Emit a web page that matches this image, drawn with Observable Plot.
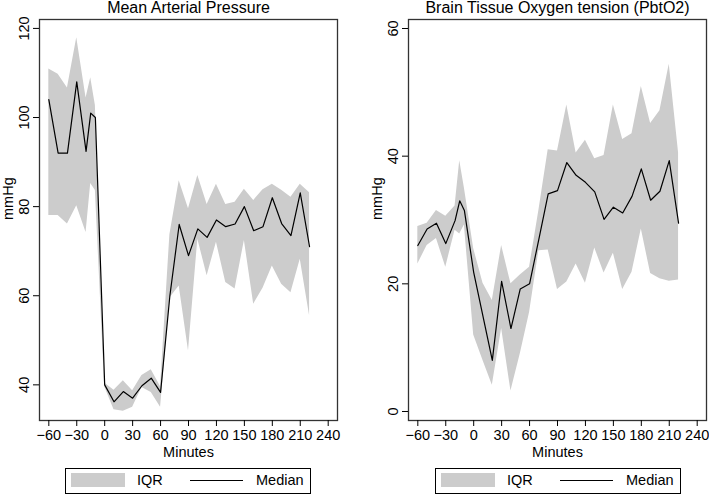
<!DOCTYPE html>
<html>
<head>
<meta charset="utf-8">
<script src="https://cdn.jsdelivr.net/npm/d3@7"></script>
<script src="https://cdn.jsdelivr.net/npm/@observablehq/plot@0.6"></script>
<style>
  body { margin: 0; background: #fff; font-family: "Liberation Sans", Arial, sans-serif; }
  #wrap { position: relative; width: 709px; height: 494px; overflow: hidden; background: #fff; }
  .panel { position: absolute; top: 0; }
  .legend { position: absolute; top: 468px; width: 246px; height: 26px; border: 1px solid #000; box-sizing: border-box; background: #fff; font-size: 14.5px; color: #000; }
  .sw { position: absolute; left: 5px; top: 4px; width: 54px; height: 14px; background: #cccccc; }
  .lab { position: absolute; top: 4px; line-height: 14.5px; white-space: nowrap; }
  .ln { position: absolute; left: 124px; top: 11px; width: 53px; height: 0; border-top: 1px solid #000; }
</style>
</head>
<body>
<div id="wrap"></div>
<script>
// Time points (minutes)
const minutes = [-60, -50, -40, -30, -20, -15, -10, 0, 10, 20, 30, 40, 50, 60, 70, 80, 90, 100, 110, 120, 130, 140, 150, 160, 170, 180, 190, 200, 210, 220];

// Mean Arterial Pressure (mmHg)
const mapMedian = [104, 92, 92, 108, 92.4, 101, 100, 40, 36.2, 38.5, 37, 39.8, 41.5, 38.3, 60, 76, 69, 75, 73.1, 77, 75.5, 76.1, 80, 74.6, 75.5, 82, 76.2, 73.5, 83.1, 71];
const mapLow    = [78, 78, 76.1, 80.2, 74.2, 85.2, 83.6, 39.6, 34.4, 34.1, 35, 39.4, 38.3, 35, 59.5, 62.2, 47.6, 72.7, 64.5, 72, 63, 61.5, 72.4, 58.1, 61.7, 66.7, 62.6, 60.7, 68.2, 55.5];
const mapHigh   = [110.9, 109.7, 106.6, 117.9, 104.4, 108.9, 102.7, 40.4, 38.8, 40.9, 38.7, 42.1, 43.4, 39.6, 73.7, 85.8, 79.5, 87, 80.5, 85, 80.5, 81, 83.9, 81.4, 83.8, 85, 83.7, 82.1, 85, 83.1];

// Brain Tissue Oxygen tension (PbtO2, mmHg)
const pbtMedian = [26, 28.6, 29.5, 26.3, 29.9, 33, 31.5, 21.8, 14.9, 8, 20.4, 13, 19.2, 20, 27, 34.1, 34.6, 39, 37, 35.9, 34.4, 30.1, 32, 31.1, 33.7, 38, 33.1, 34.5, 39.3, 29.5];
const pbtLow    = [23.1, 26, 27.1, 22.6, 28.4, 27.8, 29.2, 12, 8, 4.1, 13, 3.2, 9, 15.5, 25.2, 25.3, 19.1, 20.3, 23.1, 20.1, 25.6, 21.7, 24.8, 19.1, 21.8, 28.6, 21.6, 20.8, 20.4, 20.6];
const pbtHigh   = [29, 29.5, 31.5, 30.6, 32.2, 39.3, 35, 25.5, 20.1, 17.4, 26, 20, 21.4, 22.6, 31.5, 41, 40.8, 48, 40.5, 42.5, 39.6, 40.1, 48, 42.6, 43.5, 50.9, 45.1, 47.1, 54.4, 40.5];

// Axis ticks
const xTicks = [-60, -30, 0, 30, 60, 90, 120, 150, 180, 210, 240];
const mapTicks = [40, 60, 80, 100, 120];
const pbtTicks = [0, 20, 40, 60];

const titles = ["Mean Arterial Pressure", "Brain Tissue Oxygen tension (PbtO2)"];
const legendLabels = ["IQR", "Median"];

function panel(median, low, high, yDomain, yTicks, title, width, mL, mR) {
  const data = minutes.map((m, i) => ({m, med: median[i], lo: low[i], hi: high[i]}));
  return Plot.plot({
    width, height: 494,
    marginTop: 19, marginBottom: 74, marginLeft: mL, marginRight: mR,
    x: {domain: [-70, 250]},
    y: {domain: yDomain},
    style: {fontFamily: "'Liberation Sans', Arial, sans-serif", fontSize: "14.5px", color: "#000", background: "#fff", overflow: "visible"},
    marks: [
      Plot.areaY(data, {x: "m", y1: "lo", y2: "hi", fill: "#cccccc"}),
      Plot.lineY(data, {x: "m", y: "med", stroke: "#000", strokeWidth: 1.2}),
      Plot.frame({stroke: "#333", strokeWidth: 1.3}),
      Plot.axisX({ticks: xTicks, tickSize: 6, tickPadding: 3, label: null}),
      Plot.axisY({ticks: yTicks, tickSize: 6, tickRotate: -90, tickPadding: 5, label: null}),
      Plot.text([title], {text: d => d, frameAnchor: "top", dy: -7, lineAnchor: "bottom", fontSize: 16}),
      Plot.text(["Minutes"], {text: d => d, frameAnchor: "bottom", dy: 36, lineAnchor: "bottom"}),
      Plot.text(["mmHg"], {text: d => d, frameAnchor: "left", dx: -31, rotate: -90})
    ]
  });
}

const wrap = document.getElementById("wrap");
const p1 = panel(mapMedian, mapLow, mapHigh, [32, 122], mapTicks, titles[0], 354, 39, 17);
const p2 = panel(pbtMedian, pbtLow, pbtHigh, [-1.41, 61.41], pbtTicks, titles[1], 355, 54, 3);
const d1 = document.createElement("div"); d1.className = "panel"; d1.style.left = "0px"; d1.appendChild(p1);
const d2 = document.createElement("div"); d2.className = "panel"; d2.style.left = "354px"; d2.appendChild(p2);
wrap.appendChild(d1); wrap.appendChild(d2);

function legend(left) {
  const box = document.createElement("div");
  box.className = "legend";
  box.style.left = left + "px";
  box.innerHTML = `<div class="sw"></div><span class="lab" style="left:71px">${legendLabels[0]}</span><div class="ln"></div><span class="lab" style="left:190px">${legendLabels[1]}</span>`;
  wrap.appendChild(box);
}
legend(65);
legend(435);
</script>
</body>
</html>
